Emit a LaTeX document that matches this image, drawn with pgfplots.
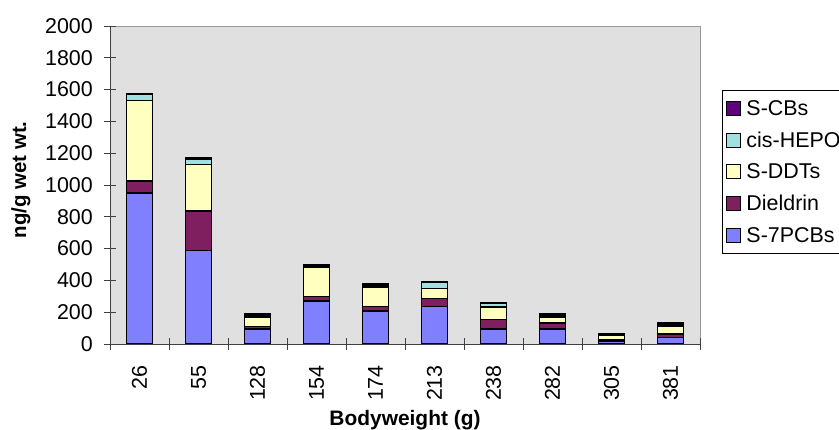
\documentclass[border=0pt]{standalone}
\usepackage{pgfplots}
\pgfplotsset{compat=1.18}
\usepackage{fontspec}
\setmainfont{Liberation Sans}
\definecolor{cPCB}{HTML}{8080FF}
\definecolor{cDIE}{HTML}{7F1F5F}
\definecolor{cDDT}{HTML}{FFFFC0}
\definecolor{cHEP}{HTML}{A0E0E0}
\definecolor{cCB}{HTML}{600080}
\definecolor{cBG}{HTML}{E0E0E0}
\begin{document}
\begin{tikzpicture}
\useasboundingbox (0,0) rectangle (839bp,430bp);
\begin{axis}[
  at={(110bp,86bp)}, anchor=south west,
  width=590bp, height=318bp, scale only axis,
  ybar stacked, bar width=0.44,
  xmin=-0.5, xmax=9.5, ymin=0, ymax=2000,
  ytick distance=200,
  xtick={-0.5,0.5,...,9.5},
  x tick label as interval,
  xticklabels={26,55,128,154,174,213,238,282,305,381},
  axis x line*=bottom, axis y line*=left,
  axis line style={black!75,-},
  axis background/.style={fill=cBG, draw=gray!80},
  tick align=center, major tick length=12bp,
  tick style={black!75, line width=0.8pt},
  /pgf/number format/assume math mode=true,
  /pgf/number format/1000 sep={},
  tick label style={font=\fontsize{21.5}{23}\selectfont},
  yticklabel style={inner sep=0pt, xshift=-11bp},
  xticklabel style={rotate=90, anchor=east, inner sep=0pt},
  xticklabel shift=15bp,
  xlabel={Bodyweight (g)},
  ylabel={ng/g wet wt.},
  xlabel style={font=\bfseries\fontsize{21}{23}\selectfont, at={(axis description cs:0.5,-0.24)}, anchor=center},
  ylabel style={font=\bfseries\fontsize{20.5}{22}\selectfont, at={(axis description cs:-0.151,0.516)}, anchor=center},
  reverse legend,
  legend style={at={(1.0373,0.7987)}, anchor=north west, draw=black, fill=white,
    font=\fontsize{21.5}{23}\selectfont, row sep=11bp, inner xsep=4bp, inner ysep=8bp,
    cells={anchor=west}},
  legend image code/.code={\draw[#1, line width=1pt] (0bp,-7bp) rectangle (14bp,7bp); \path (17bp,0bp);},
]
\addplot[fill=cPCB, draw=black, line width=1.6pt] coordinates {(0,951) (1,587) (2,95) (3,272) (4,207) (5,235) (6,94) (7,94) (8,17) (9,42)};
\addplot[fill=cDIE, draw=black, line width=1.6pt] coordinates {(0,76) (1,251) (2,15) (3,26) (4,28) (5,50) (6,61) (7,38) (8,10) (9,21)};
\addplot[fill=cDDT, draw=black, line width=1.6pt] coordinates {(0,505) (1,290) (2,60) (3,186) (4,123) (5,63) (6,78) (7,38) (8,27) (9,50)};
\addplot[fill=cHEP, draw=black, line width=1.6pt] coordinates {(0,36) (1,37) (2,7) (3,10) (4,12) (5,38) (6,25) (7,10) (8,5) (9,12)};
\addplot[fill=cCB, draw=black, line width=1.6pt] coordinates {(0,4) (1,4) (2,10) (3,7) (4,7) (5,3) (6,3) (7,9) (8,4) (9,11)};
\legend{S-7PCBs,Dieldrin,S-DDTs,cis-HEPO,S-CBs}
\end{axis}
\end{tikzpicture}
\end{document}
